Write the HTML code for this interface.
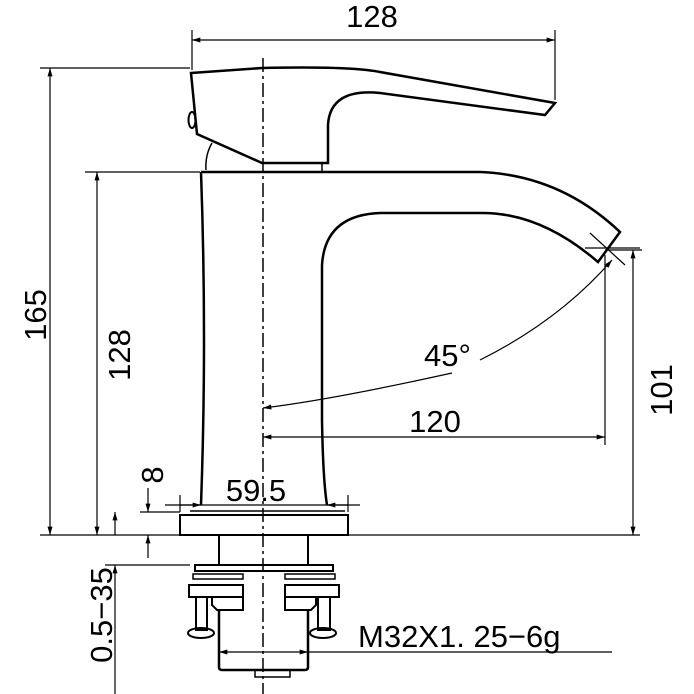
<!DOCTYPE html>
<html><head><style>html,body{margin:0;padding:0;background:#fff}svg{display:block}</style></head>
<body>
<svg width="694" height="694" viewBox="0 0 694 694" xmlns="http://www.w3.org/2000/svg" font-family="Liberation Sans, Arial, sans-serif">
<defs>
<marker id="a" viewBox="0 0 10 6" refX="10" refY="3" markerWidth="12" markerHeight="5" orient="auto-start-reverse" markerUnits="userSpaceOnUse"><path d="M0,0 L10,3 L0,6z" fill="#000"/></marker>
</defs>
<g stroke="#000" fill="none">
<line x1="263" y1="58" x2="263" y2="694" stroke-width="1.5" stroke-dasharray="14,4,3,4"/>
<path d="M191,73 L262,68 Q350,66 380,72 L555,103 L545,115 L380,93 Q330,88 328,125 L328,163 L262,163 L197,134 Z" stroke-width="2.5"/>
<ellipse cx="192" cy="120" rx="3.5" ry="8" stroke-width="2"/>
<path d="M212,143 Q205,155 206,170" stroke-width="1.5"/>
<line x1="322" y1="163" x2="322" y2="172" stroke-width="1.5"/>
<path d="M201,172 L480,172 Q560,175 620,232 L598,262 Q540,212 480,213 L380,213 Q325,215 322,265 L322,420 Q323,480 327,505" stroke-width="2.5"/>
<path d="M201,172 Q207,340 201,505" stroke-width="2.5"/>
<line x1="190" y1="511" x2="345" y2="511" stroke-width="1.5"/>
<rect x="180" y="515" width="168" height="20" stroke-width="2"/>
<line x1="219" y1="535" x2="219" y2="565" stroke-width="2"/>
<line x1="308" y1="535" x2="308" y2="565" stroke-width="2"/>
<rect x="195" y="565" width="138" height="6" stroke-width="2"/>
<rect x="193" y="574" width="50" height="5" stroke-width="1.5"/>
<rect x="285" y="574" width="50" height="5" stroke-width="1.5"/>
<rect x="189" y="585" width="54" height="12" stroke-width="2"/>
<rect x="285" y="585" width="54" height="12" stroke-width="2"/>
<path d="M212,597 L212,605 L217,610 L243,610 L243,597" stroke-width="2"/>
<path d="M316,597 L316,605 L311,610 L285,610 L285,597" stroke-width="2"/>
<rect x="196" y="597" width="11" height="33" stroke-width="2"/>
<rect x="318" y="597" width="12" height="33" stroke-width="2"/>
<ellipse cx="201" cy="633" rx="13" ry="5" stroke-width="2"/>
<ellipse cx="323" cy="633" rx="13" ry="5" stroke-width="2"/>
<path d="M219,610 L219,667 Q219,670 222,670 L305,670 Q308,670 308,667 L308,610" stroke-width="2.5"/>
<rect x="255" y="670" width="35" height="7" stroke-width="1.5"/>
<g stroke-width="1.2">
<line x1="192" y1="30" x2="192" y2="70"/><line x1="555" y1="30" x2="555" y2="100"/>
<line x1="192" y1="40" x2="555" y2="40" marker-start="url(#a)" marker-end="url(#a)"/>
<line x1="40" y1="68" x2="190" y2="68"/>
<line x1="40" y1="535" x2="640" y2="535"/>
<line x1="50" y1="68" x2="50" y2="535" marker-start="url(#a)" marker-end="url(#a)"/>
<line x1="85" y1="172" x2="200" y2="172"/>
<line x1="97" y1="172" x2="97" y2="535" marker-start="url(#a)" marker-end="url(#a)"/>
<line x1="140" y1="512" x2="180" y2="512"/>
<line x1="148" y1="488" x2="148" y2="512" marker-end="url(#a)"/>
<line x1="148" y1="558" x2="148" y2="535" marker-end="url(#a)"/>
<line x1="105" y1="565" x2="190" y2="565"/>
<line x1="115" y1="535" x2="115" y2="512" marker-end="url(#a)"/>
<line x1="115" y1="694" x2="115" y2="565" marker-end="url(#a)"/>
<line x1="605" y1="250" x2="642" y2="250"/>
<line x1="633" y1="250" x2="633" y2="535" marker-start="url(#a)" marker-end="url(#a)"/>
<line x1="605" y1="255" x2="605" y2="445"/>
<line x1="263" y1="437" x2="605" y2="437" marker-start="url(#a)" marker-end="url(#a)"/>
<path d="M263,408 Q330,400 452,373" marker-start="url(#a)"/>
<path d="M480,360 Q560,320 612,260" marker-end="url(#a)"/>
<line x1="590" y1="233" x2="625" y2="265"/><line x1="585" y1="248" x2="640" y2="248"/>
<line x1="180" y1="495" x2="180" y2="512"/><line x1="348" y1="495" x2="348" y2="512"/>
<line x1="180" y1="505" x2="348" y2="505"/>
<line x1="165" y1="505" x2="201" y2="505" marker-end="url(#a)"/>
<line x1="360" y1="505" x2="327" y2="505" marker-end="url(#a)"/>
<line x1="219" y1="652" x2="308" y2="652" marker-start="url(#a)" marker-end="url(#a)"/>
<line x1="308" y1="652" x2="612" y2="652"/>
</g>
</g>
<g fill="#000" font-size="31">
<text x="372" y="27" text-anchor="middle">128</text>
<text transform="translate(46,315) rotate(-90)" text-anchor="middle">165</text>
<text transform="translate(130,355) rotate(-90)" text-anchor="middle">128</text>
<text transform="translate(163,475) rotate(-90)" text-anchor="middle">8</text>
<text transform="translate(112,615) rotate(-90)" text-anchor="middle">0.5−35</text>
<text transform="translate(672,390) rotate(-90)" text-anchor="middle">101</text>
<text x="435" y="432" text-anchor="middle">120</text>
<text x="424" y="366">45°</text>
<text x="256" y="501" text-anchor="middle">59.5</text>
<text x="358" y="647">M32X1. 25−6g</text>
</g>
</svg>
</body></html>
